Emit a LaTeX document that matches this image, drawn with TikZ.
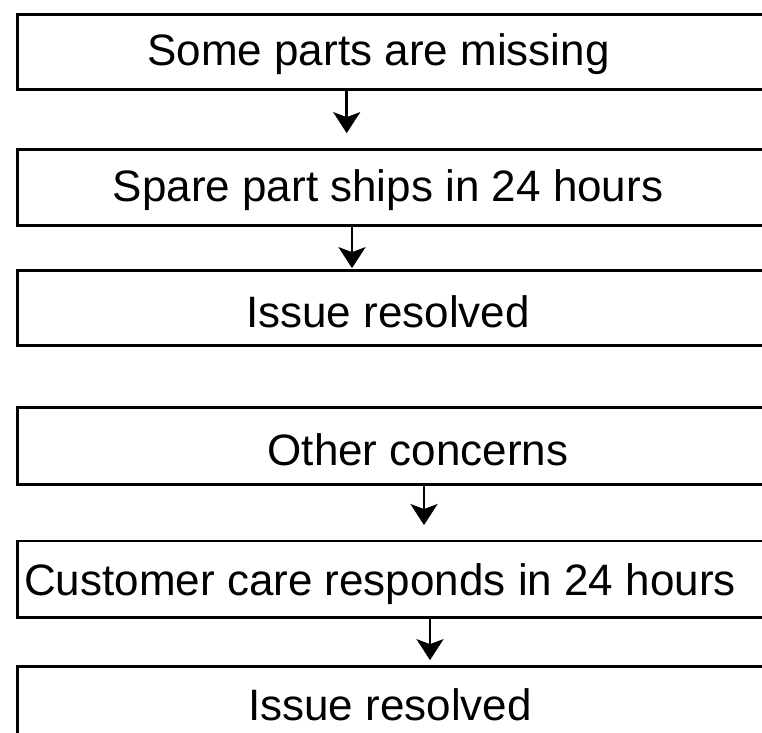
\documentclass[tikz,border=0pt]{standalone}
\usepackage{fontspec}
\setmainfont{Liberation Sans}
\usetikzlibrary{arrows.meta}
\begin{document}
\begin{tikzpicture}[x=1pt,y=-1pt,
  box/.style={draw,line width=2.7pt,minimum width=800pt,inner sep=0pt},
  lbl/.style={font=\fontsize{44}{50}\selectfont,inner sep=0pt,text height=31.5pt,text depth=0pt},
  arr/.style={line width=2.7pt,-{Stealth[length=21pt,width=27pt,inset=5pt]}}]
\useasboundingbox (0,0) rectangle (762,732);
\clip (0,0) rectangle (762,732);
% boxes
\node[box,minimum height=74.8pt] (b1) at (417.5,52.1) {};
\node[box,minimum height=76pt]   (b2) at (417.5,187.5) {};
\node[box,minimum height=75pt]   (b3) at (417.5,308) {};
\node[box,minimum height=77pt]   (b4) at (417.5,446) {};
\node[box,minimum height=76.5pt] (b5) at (417.5,579.25) {};
\node[box,minimum height=76.5pt] (b6) at (417.5,704.75) {};
% labels
\node[lbl] (t1) at (378.5,49.5) {Some parts are missing};
\node[lbl] (t2) at (388,186) {Spare part ships in 24 hours};
\node[lbl] (t3) at (388,312) {Issue resolved};
\node[lbl] (t4) at (418,450) {Other concerns};
\node[lbl] (t5) at (380,580) {Customer care responds in 24 hours};
\node[lbl] (t6) at (390,705) {Issue resolved};
% arrow columns
\coordinate (a1) at (346.7,0);
\coordinate (a2) at (352,0);
\coordinate (a3) at (424,0);
\coordinate (a4) at (430,0);
\draw[arr,shorten >=15pt] (b1.south -| a1) -- (b2.north -| a1);
\draw[arr,shorten >=1pt] (b2.south -| a2) -- (b3.north -| a2);
\draw[arr,shorten >=14.6pt] (b4.south -| a3) -- (b5.north -| a3);
\draw[arr,shorten >=5pt] (b5.south -| a4) -- (b6.north -| a4);
\end{tikzpicture}
\end{document}
